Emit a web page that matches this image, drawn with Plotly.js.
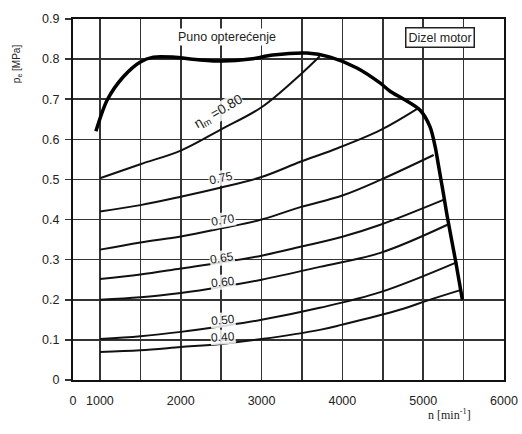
<!DOCTYPE html>
<html>
<head>
<meta charset="utf-8">
<script src="https://cdn.plot.ly/plotly-3.0.1.min.js"></script>
<style>html,body{margin:0;padding:0;background:#fff;}#chart{width:522px;height:434px;}</style>
</head>
<body>
<div id="chart"></div>
<script>
// Full-load curve (Puno opterećenje)
const fullN = [950, 1090, 1290, 1500, 1660, 1900, 2240, 2520, 2860, 3140, 3560, 3850, 4180, 4470, 4590, 4760, 4960, 5085, 5150, 5185, 5250, 5300, 5400, 5485];
const fullP = [0.62, 0.698, 0.756, 0.793, 0.805, 0.805, 0.798, 0.795, 0.80, 0.81, 0.815, 0.805, 0.778, 0.74, 0.72, 0.70, 0.673, 0.631, 0.58, 0.54, 0.465, 0.405, 0.298, 0.20];

// Mechanical efficiency curves
const eta80N = [1000, 1500, 2000, 2500, 3000, 3500, 3720];
const eta80P = [0.503, 0.538, 0.572, 0.625, 0.68, 0.765, 0.807];
const eta75N = [1000, 1500, 2000, 2500, 3000, 3480, 3890, 4470, 4940];
const eta75P = [0.42, 0.436, 0.457, 0.48, 0.506, 0.544, 0.574, 0.623, 0.678];
const eta70N = [1000, 1500, 2000, 2500, 3000, 3480, 4000, 4470, 5130];
const eta70P = [0.325, 0.343, 0.358, 0.378, 0.40, 0.431, 0.46, 0.499, 0.561];
const eta65N = [1000, 1500, 2000, 2500, 3000, 3480, 4000, 4470, 5250];
const eta65P = [0.252, 0.263, 0.278, 0.293, 0.31, 0.332, 0.357, 0.387, 0.449];
const eta60N = [1000, 1500, 2000, 2500, 3000, 3720, 4470, 5300];
const eta60P = [0.20, 0.206, 0.217, 0.232, 0.25, 0.282, 0.317, 0.387];
const eta50N = [1000, 1500, 2000, 2500, 3000, 3720, 4470, 5420];
const eta50P = [0.102, 0.109, 0.12, 0.134, 0.15, 0.18, 0.219, 0.294];
const eta40N = [1000, 1500, 2000, 2500, 3000, 3720, 4000, 4710, 5050, 5460];
const eta40P = [0.07, 0.074, 0.082, 0.09, 0.102, 0.125, 0.138, 0.175, 0.198, 0.224];

// Tick labels
const xTickVals = [667, 1000, 2000, 3000, 4000, 5000, 6000];
const xTickText = ["0", "1000", "2000", "3000", "4000", "5000", "6000"];
const xMinorVals = [1500, 2500, 3500, 4500, 5500];
const yTickVals = [0, 0.1, 0.2, 0.3, 0.4, 0.5, 0.6, 0.7, 0.8, 0.9];
const yTickText = ["0", "0.1", "0.2", "0.3", "0.4", "0.5", "0.6", "0.7", "0.8", "0.9"];

// Curve labels
const etaLabels = ["η<sub>m</sub> =0.80", "0.75", "0.70", "0.65", "0.60", "0.50", "0.40"];
const etaLabelN = [2462, 2499, 2523, 2511, 2523, 2523, 2523];
const etaLabelP = [0.668, 0.504, 0.399, 0.304, 0.244, 0.15, 0.107];
const etaLabelAngle = [-30, -12, -10, -9, -6, -5, -4];
const etaLabelSize = [13.5, 12, 12, 12, 12, 12, 12];

const thin = {color: '#111', width: 2, shape: 'spline', smoothing: 1};
const curves = [[eta80N, eta80P], [eta75N, eta75P], [eta70N, eta70P], [eta65N, eta65P], [eta60N, eta60P], [eta50N, eta50P], [eta40N, eta40P]];
const traces = curves.map(c => ({x: c[0], y: c[1], mode: 'lines', line: thin, hoverinfo: 'skip'}));
traces.push({x: fullN, y: fullP, mode: 'lines', line: {color: '#000', width: 3.5, shape: 'spline', smoothing: 0.8}, hoverinfo: 'skip'});

const font = {family: 'Liberation Sans, Arial, sans-serif', color: '#222'};
const annotations = etaLabels.map((t, i) => ({
  x: etaLabelN[i], y: etaLabelP[i], xref: 'x', yref: 'y', text: t, showarrow: false,
  textangle: etaLabelAngle[i], font: Object.assign({size: etaLabelSize[i]}, font), bgcolor: 'rgba(255,255,255,0.85)', borderpad: 0
}));
annotations.push({x: 2573, y: 0.855, xref: 'x', yref: 'y', text: 'Puno opterećenje', showarrow: false, font: Object.assign({size: 12.5}, font), bgcolor: '#fff'});
annotations.push({x: 5209, y: 0.853, xref: 'x', yref: 'y', text: 'Dizel motor', showarrow: false, font: Object.assign({size: 12.5}, font), bgcolor: '#fff', bordercolor: '#222', borderwidth: 1.5, borderpad: 2});
annotations.push({x: -0.148, y: 0.935, xref: 'paper', yref: 'paper', text: 'p<sub>e</sub> [MPa]', showarrow: false, textangle: -90, font: Object.assign({size: 10}, font)});
annotations.push({x: 0.928, y: -0.122, xref: 'paper', yref: 'paper', text: 'n [min<sup>-1</sup>]', showarrow: false, font: {family: 'Liberation Serif, serif', size: 12, color: '#222'}});

const layout = {
  width: 522, height: 434,
  margin: {l: 73, r: 18, t: 19, b: 54},
  paper_bgcolor: '#fff', plot_bgcolor: '#fff',
  showlegend: false,
  xaxis: {
    range: [667, 6000], tickmode: 'array', tickvals: xTickVals, ticktext: xTickText,
    showgrid: true, gridcolor: '#333', gridwidth: 1.6,
    minor: {tickmode: 'array', tickvals: xMinorVals, showgrid: true, gridcolor: '#333', gridwidth: 1.6, ticks: ''},
    showline: true, linecolor: '#111', linewidth: 2, mirror: true,
    ticks: '', ticklabelstandoff: 8, zeroline: false,
    tickfont: Object.assign({size: 12.5}, font)
  },
  yaxis: {
    range: [0, 0.9], tickmode: 'array', tickvals: yTickVals, ticktext: yTickText,
    showgrid: true, gridcolor: '#333', gridwidth: 1.6,
    showline: true, linecolor: '#111', linewidth: 2, mirror: true,
    ticks: 'outside', ticklen: 6, tickcolor: '#333', tickwidth: 1.6, ticklabelstandoff: 3, zeroline: false,
    tickfont: Object.assign({size: 12.5}, font)
  },
  annotations: annotations
};

Plotly.newPlot('chart', traces, layout, {displayModeBar: false, staticPlot: true});
</script>
</body>
</html>
